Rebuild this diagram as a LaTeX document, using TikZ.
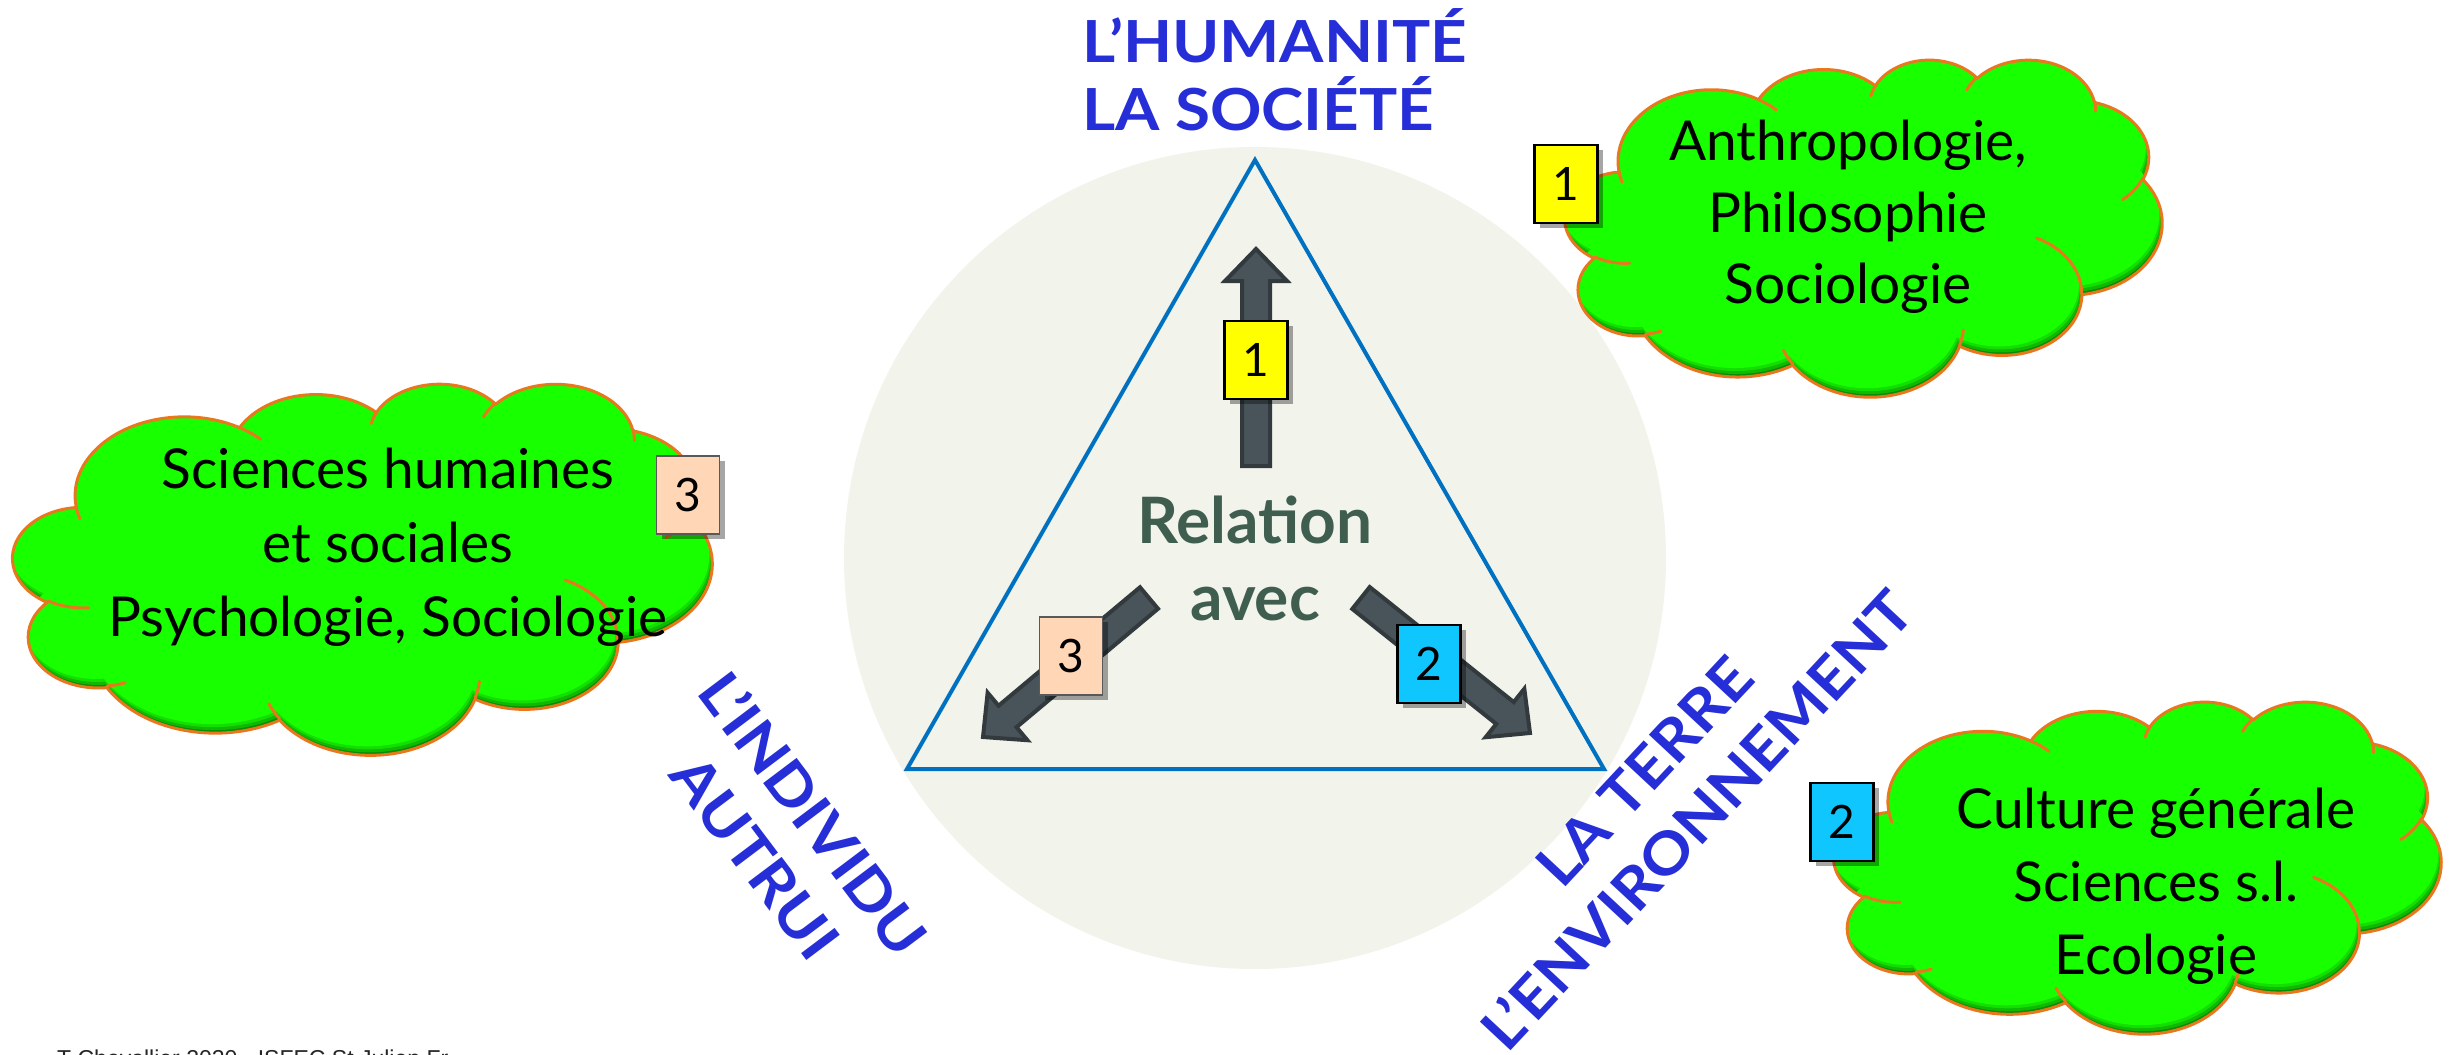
\documentclass[tikz,border=0pt]{standalone}
\usepackage{fontspec}
\setmainfont{Lato}
\newfontfamily\lblfont[FakeStretch=1.1]{Lato}
\newfontfamily\footfont{Liberation Sans}
\usetikzlibrary{calc,shadows}
\definecolor{bgcircle}{RGB}{242,244,236}
\definecolor{triblue}{RGB}{0,112,192}
\definecolor{lblblue}{RGB}{38,46,216}
\definecolor{reltext}{RGB}{63,94,80}
\definecolor{arrfill}{RGB}{72,84,89}
\definecolor{arrline}{RGB}{50,58,62}
\definecolor{cloudgreen}{RGB}{24,255,0}
\definecolor{cloudmidA}{RGB}{20,222,0}
\definecolor{cloudmidB}{RGB}{15,185,0}
\definecolor{cloudedge}{RGB}{10,140,0}
\definecolor{cloudorange}{RGB}{232,120,30}
\definecolor{badgeyellow}{RGB}{255,255,0}
\definecolor{badgecyan}{RGB}{16,198,255}
\definecolor{badgepeach}{RGB}{255,214,182}

% cloud geometry (PowerPoint cloud, units of 1/4320 of the box)
\def\cloudarcs{675.3/919.0/-190.4875/123.7805,533.3/726.7/-144.1024/89.9452,436.5/594.5/-145.8079/99.7230,485.7/659.5/-130.9861/117.2417,533.3/727.3/-78.7089/109.0269,677.5/922.0/-46.2673/130.2690,578.5/786.7/0.6250/114.0333,675.2/921.5/22.4516/115.1726,772.0/1054.3/66.2426/75.7110,436.0/591.8/-274.9421/146.7356,434.5/594.5/-246.8285/152.5189}
\def\cloudstublist{469.3/2617.7/434.5/594.5/86.742/26.430,692.8/3489.9/436.0/591.8/73.610/11.447,1647.8/3909.0/675.2/921.5/137.624/14.081,2882.7/3475.1/675.3/919.0/6.453/15.998,3412.9/2295.4/578.5/786.7/-70.292/70.917,4179.8/1535.4/533.3/727.3/30.318/27.752,3832.4/542.6/485.7/659.5/-13.744/14.859,2907.8/395.2/485.7/659.5/-149.181/18.195,2214.1/472.0/436.5/594.5/-163.494/17.686,1400.0/519.2/675.3/919.0/-66.707/12.319,412.7/1578.9/675.3/919.0/157.654/11.858}

\newcommand\cloudpath[2]{({\clx+(#1)+390*\clsx},{\cly+(#2)+1437*\clsy})
  \foreach \qa/\qb/\qc/\qd in \cloudarcs {
    arc[start angle={-atan2(\qa*sin(\qc),\qb*cos(\qc))},
        delta angle={-mod(atan2(\qa*sin(\qc+\qd),\qb*cos(\qc+\qd))-atan2(\qa*sin(\qc),\qb*cos(\qc))+720,360)},
        x radius={\qa*\clsx*1pt}, y radius={\qb*\clsy*1pt}]
  } -- cycle}

\newcommand\cloudstubs{%
  \foreach \qx/\qy/\qa/\qb/\qc/\qd in \cloudstublist {
    ({\clx+\qx*\clsx},{\cly+\qy*\clsy})
    arc[start angle={-atan2(\qa*sin(\qc),\qb*cos(\qc))},
        delta angle={-mod(atan2(\qa*sin(\qc+\qd),\qb*cos(\qc+\qd))-atan2(\qa*sin(\qc),\qb*cos(\qc))+720,360)},
        x radius={\qa*\clsx*1pt}, y radius={\qb*\clsy*1pt}]
  }}

\newcommand\drawcloud[4]{%
  \def\clx{#1}\def\cly{#2}%
  \pgfmathsetmacro\clsx{#3/4320}\pgfmathsetmacro\clsy{#4/4320}%
  \begin{scope}
    \clip \cloudpath{0}{0};
    \fill[cloudedge] ({#1-10},{#2-10}) rectangle ({#1+#3+10},{#2+#4+10});
    \fill[cloudmidB] \cloudpath{-1}{-3};
    \fill[cloudmidA] \cloudpath{-2}{-6};
    \fill[cloudgreen] \cloudpath{-3}{-9};
  \end{scope}
  \draw[cloudline] \cloudpath{0}{0};
  \draw[cloudline] \cloudstubs;
}

\newcommand\blockarrow[2]{%
  \pgfpointdiff{\pgfpointanchor{#1}{center}}{\pgfpointanchor{#2}{center}}%
  \pgfgetlastxy{\badx}{\bady}%
  \pgfmathsetmacro\baang{atan2(\bady,\badx)}%
  \pgfmathsetmacro\balen{veclen(\badx,\bady)}%
  \pgfmathsetmacro\bahb{\balen-32}%
  \begin{scope}[shift={(#1)}, rotate=\baang]
    \filldraw[blockarrow] (0pt,-14pt) -- (\bahb pt,-14pt) -- (\bahb pt,-31pt) -- (\balen pt,0pt) -- (\bahb pt,31pt) -- (\bahb pt,14pt) -- (0pt,14pt) -- cycle;
  \end{scope}}

\begin{document}
\begin{tikzpicture}[x=1pt,y=-1pt,
  blockarrow/.style={fill=arrfill, draw=arrline, line width=4pt, line join=miter},
  badge/.style={draw=black, line width=2.2pt, minimum width=63pt, minimum height=78pt, inner sep=0pt,
     font=\fontsize{46}{46}\selectfont,
     drop shadow={shadow xshift=5pt, shadow yshift=-5pt, opacity=0.35, fill=black}},
  cloudtext/.style={font=\fontsize{55}{60}\selectfont, anchor=base, inner sep=0pt},
  bluelabel/.style={text=lblblue, font=\lblfont\bfseries\fontsize{58}{72}\selectfont, align=center, inner sep=0pt},
  reltext/.style={text=reltext, font=\bfseries\fontsize{64}{64}\selectfont, anchor=base, inner sep=0pt},
  cloudline/.style={draw=cloudorange, line width=3pt, line join=round, line cap=round}]
\useasboundingbox (0,0) rectangle (2453,1055);
\fill[white] (0,0) rectangle (2453,1055);

% background disc and triangle
\fill[bgcircle] (1255,558) circle[radius=411pt];
\coordinate (apex) at (1255,160);
\coordinate (bl) at (907,769);
\coordinate (br) at (1604,769);
\draw[triblue, line width=4pt, line join=miter] (apex) -- (br) -- (bl) -- cycle;

% block arrows
\coordinate (upT) at (1256,466); \coordinate (upH) at (1256,249);
\coordinate (lT) at (1149,598);  \coordinate (lH) at (983,737);
\coordinate (rT) at (1361,598);  \coordinate (rH) at (1530,733);
\blockarrow{upT}{upH}
\blockarrow{lT}{lH}
\blockarrow{rT}{rH}

% badges on arrows
\node[badge, fill=badgeyellow] (b1) at (1256,360) {1};
\node[badge, fill=badgecyan] (b2) at (1429,664) {2};
\node[badge, fill=badgepeach, draw=black!65, line width=1.3pt] (b3) at (1071,656) {3};

% centre text
\node[reltext] (rel) at (1255,543) {Relation};
\node[reltext] (avec) at (1255,620) {avec};

% pole labels
\node[bluelabel, anchor=base west] (hum) at (1082,62) {L’HUMANITÉ};
\node[bluelabel, anchor=base west] (soc) at (1082,130) {LA SOCIÉTÉ};
\node[bluelabel, rotate=-53] (indiv) at (785,835) {L’INDIVIDU\\AUTRUI};
\node[bluelabel, rotate=47] (terre) at (1671,796) {LA TERRE\\L’ENVIRONNEMENT};

% clouds
\drawcloud{1565}{59}{597}{337}
\drawcloud{1834}{701}{607}{332}
\drawcloud{13}{383}{699}{371}

\node[cloudtext] (c1a) at (1848,160) {Anthropologie,};
\node[cloudtext] (c1b) at (1848,232) {Philosophie};
\node[cloudtext] (c1c) at (1848,303) {Sociologie};
\node[cloudtext] (c2a) at (2156,828) {Culture générale};
\node[cloudtext] (c2b) at (2156,901) {Sciences s.l.};
\node[cloudtext] (c2c) at (2156,974) {Ecologie};
\node[cloudtext] (c3a) at (388,488) {Sciences humaines};
\node[cloudtext] (c3b) at (388,562) {et sociales};
\node[cloudtext] (c3c) at (388,636) {Psychologie, Sociologie};

% badges on clouds
\node[badge, fill=badgeyellow] (k1) at (1566,184) {1};
\node[badge, fill=badgecyan] (k2) at (1842,822) {2};
\node[badge, fill=badgepeach, draw=black!65, line width=1.3pt] (k3) at (688,495) {3};

% footer (cut by the page edge)
\node[font=\footfont\fontsize{23}{23}\selectfont, anchor=base west, inner sep=0pt, text=black!85] (foot) at (57,1066) {T Chevallier 2020 - ISFEC St Julien Fr};
\end{tikzpicture}
\end{document}
